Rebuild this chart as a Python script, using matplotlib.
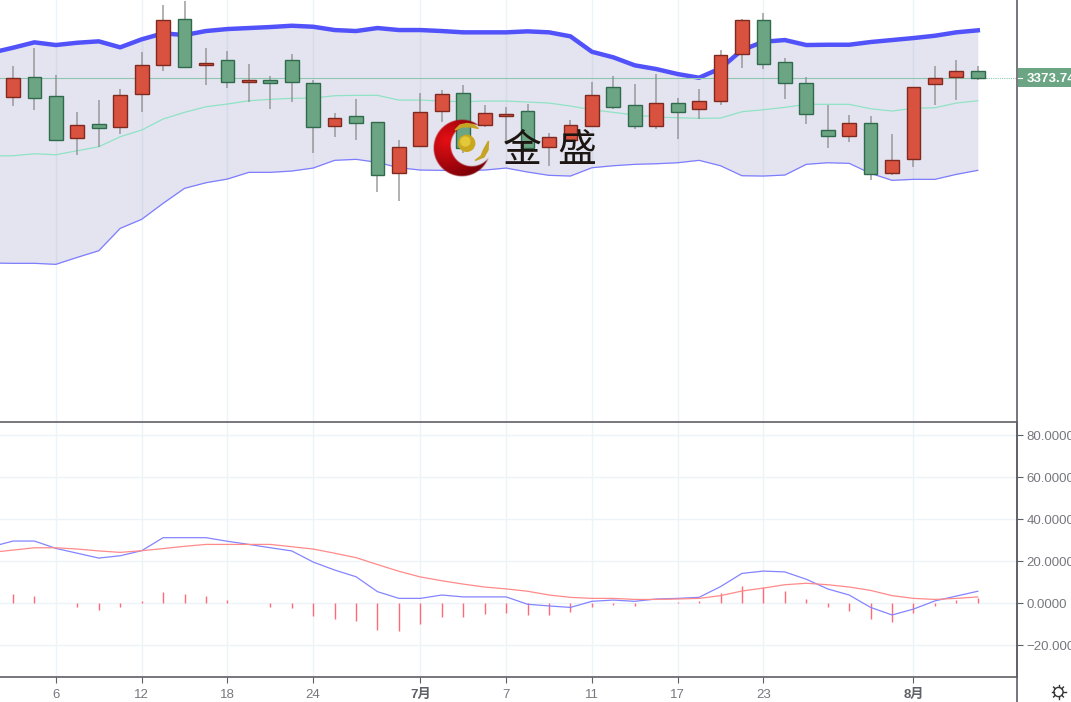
import numpy as np
import matplotlib
matplotlib.use('Agg')
import matplotlib.pyplot as plt
from matplotlib.patches import Polygon, Circle

plt.rcParams['font.family'] = ['Liberation Sans', 'Noto Sans CJK SC', 'DejaVu Sans']

# candles
opens = [3354.5, 3373.9, 3354.9, 3313.2, 3326.9, 3324.2, 3356.9, 3385.9, 3432.2, 3385.9, 3390.9, 3368.9,
         3370.9, 3390.9, 3368.2, 3325.2, 3334.9, 3328.9, 3278.5, 3305.2, 3339.9, 3358.2, 3326.5, 3335.2,
         3340.2, 3304.2, 3311.2, 3325.5, 3363.9, 3345.9, 3325.5, 3348.2, 3342.2, 3350.2, 3397.2, 3430.9,
         3389.5, 3368.2, 3321.2, 3315.2, 3327.9, 3278.5, 3291.9, 3366.9, 3374.5, 3380.5]
closes = [3372.9, 3353.2, 3310.9, 3326.5, 3323.2, 3355.9, 3386.2, 3431.2, 3384.5, 3388.5, 3369.2, 3370.9,
          3367.9, 3369.2, 3324.2, 3333.5, 3328.5, 3276.2, 3304.2, 3339.2, 3357.2, 3302.9, 3337.9, 3337.2,
          3302.9, 3314.5, 3325.9, 3355.9, 3344.2, 3325.2, 3348.2, 3338.9, 3350.2, 3396.2, 3431.2, 3387.2,
          3367.9, 3337.5, 3315.2, 3327.9, 3277.2, 3290.9, 3363.9, 3373.5, 3380.5, 3373.74]
highs = [3385.5, 3402.9, 3376.2, 3339.5, 3351.2, 3361.9, 3398.9, 3446.2, 3450.2, 3403.2, 3400.2, 3387.5,
         3375.2, 3396.9, 3370.9, 3338.2, 3351.9, 3328.9, 3311.2, 3358.5, 3361.2, 3366.5, 3346.5, 3343.9,
         3347.2, 3318.5, 3331.2, 3368.9, 3375.2, 3367.5, 3377.2, 3352.9, 3361.9, 3401.2, 3432.2, 3437.9,
         3392.9, 3373.9, 3346.5, 3335.9, 3335.2, 3317.2, 3363.9, 3385.5, 3391.2, 3385.5]
lows = [3345.2, 3341.2, 3309.9, 3296.2, 3303.9, 3317.2, 3339.5, 3379.9, 3383.5, 3366.5, 3363.5, 3348.9,
        3341.9, 3348.9, 3298.5, 3314.2, 3311.5, 3258.9, 3249.9, 3305.2, 3329.5, 3297.9, 3324.5, 3307.2,
        3301.2, 3285.5, 3309.5, 3324.5, 3341.9, 3321.9, 3321.9, 3311.9, 3332.2, 3346.2, 3383.2, 3382.2,
        3352.2, 3327.2, 3303.5, 3309.5, 3271.5, 3276.2, 3284.5, 3346.2, 3350.9, 3371.2]

# bollinger bands, first value belongs to the bar just left of the window
boll_upper = [3398.5, 3403.5, 3408.9, 3406.2, 3408.5, 3409.9, 3403.9, 3411.9, 3417.9, 3416.2, 3420.2, 3422.2,
              3423.2, 3424.2, 3425.5, 3424.5, 3421.2, 3420.2, 3423.2, 3421.2, 3421.2, 3420.2, 3418.9, 3418.9,
              3418.9, 3419.9, 3418.9, 3414.9, 3399.5, 3393.9, 3385.9, 3382.2, 3377.2, 3373.5, 3382.9, 3401.2,
              3409.5, 3411.2, 3406.2, 3406.5, 3406.5, 3409.2, 3411.2, 3413.2, 3415.5, 3418.9, 3420.9]
boll_mid = [3295.2, 3295.5, 3297.5, 3296.5, 3300.5, 3304.5, 3314.5, 3321.2, 3332.2, 3338.9, 3344.5, 3347.2,
            3350.5, 3351.9, 3352.9, 3353.2, 3355.5, 3355.9, 3355.9, 3351.2, 3351.2, 3350.2, 3349.5, 3350.2,
            3350.2, 3349.2, 3348.2, 3345.2, 3341.5, 3338.9, 3336.2, 3334.2, 3333.5, 3332.9, 3333.2, 3339.5,
            3341.5, 3343.9, 3346.9, 3346.9, 3346.9, 3342.5, 3340.2, 3342.9, 3343.5, 3348.2, 3350.5]
boll_lower = [3188.2, 3187.9, 3187.9, 3186.9, 3193.9, 3200.5, 3222.9, 3231.9, 3247.9, 3262.9, 3268.5, 3272.2,
              3278.9, 3278.9, 3280.2, 3283.2, 3290.9, 3291.9, 3288.9, 3283.5, 3281.2, 3280.9, 3280.9, 3281.2,
              3283.2, 3279.2, 3275.9, 3275.2, 3283.5, 3285.5, 3286.9, 3287.5, 3288.5, 3290.9, 3285.5, 3275.5,
              3275.2, 3276.2, 3286.9, 3288.5, 3287.9, 3277.9, 3270.9, 3271.9, 3271.9, 3276.9, 3280.9]

# macd pane
macd_line = [26.8, 29.5, 29.5, 26.0, 23.7, 21.4, 22.5, 24.9, 31.1, 31.1, 31.1, 29.4, 27.9, 26.3, 24.8, 19.5,
             15.7, 12.5, 5.4, 2.2, 2.2, 3.8, 2.9, 2.9, 2.9, -0.6, -1.4, -2.1, 0.8, 1.4, 0.8, 1.9, 2.2, 2.7,
             7.8, 14.1, 15.2, 14.8, 11.3, 6.7, 3.8, -2.1, -5.7, -2.9, 1.0, 3.3, 5.6]
signal_line = [24.1, 25.2, 26.3, 26.3, 25.7, 24.8, 24.1, 24.9, 25.9, 27.0, 27.9, 27.9, 27.9, 27.9, 26.8, 25.7,
               23.7, 21.6, 18.3, 15.1, 12.4, 10.6, 9.0, 7.6, 6.7, 5.6, 3.8, 2.7, 2.2, 2.2, 1.7, 1.7, 1.9, 2.2,
               3.5, 5.7, 7.1, 8.7, 9.4, 8.7, 7.6, 6.0, 3.5, 2.2, 1.7, 2.2, 2.9]
hist_vals = [4.1, 3.2, 0, -1.7, -3.3, -1.7, 1.0, 5.1, 4.1, 3.5, 1.4, 0, -1.7, -2.2, -6.0, -7.6, -8.7, -12.9,
             -13.2, -10.0, -6.8, -6.7, -5.2, -4.6, -5.9, -5.6, -4.4, -1.7, -0.8, -1.3, 0, 0.5, 1.0, 4.6, 8.3,
             7.5, 5.6, 2.1, -1.7, -3.8, -7.8, -9.2, -4.9, -1.3, 1.6, 2.4]

tick_idx = [2, 6, 10, 14, 19, 23, 27, 31, 35, 42]
tick_labels = ['6', '12', '18', '24', '7月', '7', '11', '17', '23', '8月']
macd_ticks = [80, 60, 40, 20, 0, -20]
last_price = 3373.74

W, H = 1071, 702
RED, RED_EDGE = '#d9523f', '#7f2a20'
GREEN, GREEN_EDGE = '#6ba583', '#2f6a4c'
GRID = '#edf4f7'
AXIS = '#5f5f66'
LABEL = '#77787f'
GOLD = '#c6a524'

fig = plt.figure(figsize=(W / 100, H / 100), dpi=100, facecolor='white')
ax = fig.add_axes([0, (H - 422) / H, 1017 / W, 422 / H])
ax2 = fig.add_axes([0, (H - 676.5) / H, 1017 / W, (676.5 - 422.5) / H])

idx = np.arange(len(opens))
idx_line = np.arange(-1, len(opens))
xlim = (-13 / 21.44, (1017 - 13) / 21.44)

# top pane
ax.set_xlim(xlim)
ax.set_ylim(3029.24, 3451.24)
ax.set_xticks(tick_idx)
ax.grid(axis='x', color=GRID, lw=1)
ax.set_axisbelow(True)
ax.fill_between(idx_line, boll_lower, boll_upper, color='#6060a8', alpha=0.17, lw=0, zorder=1)
ax.plot(idx_line, boll_mid, color='#8fe3c4', lw=0.9, zorder=2)
ax.plot(idx_line, boll_lower, color='#7d7dff', lw=0.9, zorder=2)
ax.plot(idx_line, boll_upper, color='#5252fa', lw=3.2, zorder=2, solid_joinstyle='round')
ax.plot([xlim[0], 45.4], [last_price, last_price], color='#8fc7ae', lw=0.8, zorder=2)
ax.plot([45.4, xlim[1]], [last_price, last_price], color='#8fc7ae', lw=0.8, ls=(0, (1, 1)), zorder=2)

for i in idx:
    up = closes[i] > opens[i]
    ax.vlines(i, lows[i], highs[i], color='#8c8c8c', lw=1.1, alpha=0.85, zorder=3)
    ax.bar(i, abs(closes[i] - opens[i]), bottom=min(opens[i], closes[i]), width=0.64,
           color=RED if up else GREEN, edgecolor=RED_EDGE if up else GREEN_EDGE, lw=1.0, zorder=4)

ax.tick_params(left=False, labelleft=False, bottom=False, labelbottom=False)
for s in ['left', 'top', 'right']:
    ax.spines[s].set_visible(False)
ax.spines['bottom'].set_color(AXIS)
ax.spines['bottom'].set_linewidth(1.2)
ax.patch.set_alpha(0)

# macd pane
ax2.set_xlim(xlim)
ax2.set_ylim((603 - 676.5) / 2.1, (603 - 422.5) / 2.1)
ax2.set_xticks(tick_idx)
ax2.set_xticklabels(tick_labels)
ax2.set_yticks(macd_ticks)
ax2.set_yticklabels(['80.0000', '60.0000', '40.0000', '20.0000', '0.0000', '−20.0000'])
ax2.yaxis.tick_right()
ax2.grid(color=GRID, lw=1)
ax2.set_axisbelow(True)
ax2.vlines(idx, 0, hist_vals, color='#ff6a78', lw=1.0, zorder=2)
ax2.plot(idx_line, macd_line, color='#8484ff', lw=0.9, zorder=3)
ax2.plot(idx_line, signal_line, color='#ff8a8a', lw=0.9, zorder=3)
ax2.tick_params(axis='x', length=4, width=0.8, color=AXIS, labelcolor=LABEL, labelsize=9.5, pad=5)
ax2.tick_params(axis='y', length=4, width=0.8, color=AXIS, labelcolor=LABEL, labelsize=9.5, pad=3)
for lab, t in zip(ax2.get_xticklabels(), tick_labels):
    if '月' in t:
        lab.set_fontweight('bold')
        lab.set_color('#5f6068')
for s in ['left', 'top']:
    ax2.spines[s].set_visible(False)
for s in ['bottom', 'right']:
    ax2.spines[s].set_color(AXIS)
    ax2.spines[s].set_linewidth(1.2)

# overlay in pixel coords for the logo, price tag and settings icon
ov = fig.add_axes([0, 0, 1, 1], zorder=10)
ov.set_axis_off()
ov.patch.set_alpha(0)

ov.plot([1017, 1017], [0, 702], color=AXIS, lw=1.2)

# price tag
ov.fill([1018, 1071, 1071, 1018], [68, 68, 87, 87], color=GREEN, lw=0)
ov.plot([1018, 1022], [77.5, 77.5], color='white', lw=0.8)
ov.text(1027, 77.5, f'{last_price:.2f}', color='white', fontsize=9.5, fontweight='bold',
        va='center_baseline', ha='left')

# logo crescent, see-through in the middle
gx, gy = np.meshgrid(np.arange(428, 496, 0.5), np.arange(114, 182, 0.5))
outer = np.clip(28.7 - np.hypot(gx - 461.7, gy - 147.7), 0, 1)
inner = np.clip(21.5 - np.hypot(gx - 471.5, gy - 145.0), 0, 1)
shade = np.clip(np.hypot(gx - 446, gy - 140) / 40, 0, 1)[..., None]
rgb = (1 - shade) * np.array([0.90, 0.06, 0.08]) + shade * np.array([0.50, 0.0, 0.03])
ov.imshow(np.dstack([rgb, outer * (1 - inner)]), extent=(428, 496, 182, 114), aspect='auto', zorder=5,
          interpolation='bilinear')
ov.add_patch(Circle((466.7, 143.3), 8, color='#c9a81f', zorder=6))
ov.add_patch(Circle((465.3, 141.5), 4.5, color='#e3c838', zorder=6))
ov.add_patch(Polygon([(455, 130), (460, 125), (467, 123.5), (473, 124.5), (478.5, 128.5), (470, 126.8), (462, 127)],
                     color=GOLD, zorder=6))
ov.add_patch(Polygon([(475, 160.5), (481, 156), (483.5, 150), (488.5, 141), (488, 150), (484, 157)],
                     color=GOLD, zorder=6))
cjk = ['Noto Sans CJK SC', 'DejaVu Sans']
ov.text(503, 151.5, '金', family=cjk, fontsize=28, color='#1c1612', va='center', ha='left', zorder=6)
ov.text(557, 151.5, '盛', family=cjk, fontsize=28, color='#1c1612', va='center', ha='left', zorder=6)

# settings icon
ov.add_patch(Circle((1058.5, 692), 4.6, fill=False, ec='#333333', lw=1.0))
for a in np.arange(0, 360, 45):
    r = np.deg2rad(a)
    ov.plot([1058.5 + 4.6 * np.cos(r), 1058.5 + 7 * np.cos(r)], [692 + 4.6 * np.sin(r), 692 + 7 * np.sin(r)],
            color='#333333', lw=1.0)

ov.set_xlim(0, W)
ov.set_ylim(H, 0)

fig.savefig('out.png', dpi=100)
